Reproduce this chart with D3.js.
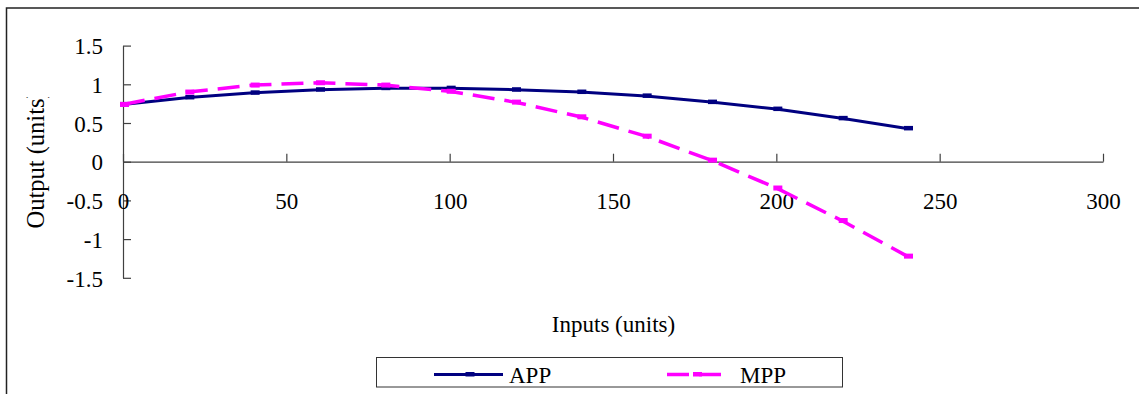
<!DOCTYPE html>
<html>
<head>
<meta charset="utf-8">
<script src="https://cdn.jsdelivr.net/npm/d3@7"></script>
<style>
  html, body { margin: 0; padding: 0; background: #fff; }
  svg { display: block; }
  text { font-family: "Liberation Serif", "Times New Roman", serif; fill: #000; }
</style>
</head>
<body>
<svg id="chart" width="1139" height="394"></svg>
<script>
// Inputs (units) and the two product curves measured at each input level
const inputs = [0, 20, 40, 60, 80, 100, 120, 140, 160, 180, 200, 220, 240];
const appValues = [0.74, 0.83, 0.89, 0.93, 0.95, 0.95, 0.93, 0.90, 0.85, 0.77, 0.68, 0.56, 0.43];
const mppValues = [0.74, 0.90, 0.99, 1.02, 0.99, 0.91, 0.77, 0.58, 0.33, 0.02, -0.34, -0.76, -1.22];

const xTickValues = [0, 50, 100, 150, 200, 250, 300];
const xTickLabels = ["0", "50", "100", "150", "200", "250", "300"];
const yTickValues = [-1.5, -1, -0.5, 0, 0.5, 1, 1.5];
const yTickLabels = ["-1.5", "-1", "-0.5", "0", "0.5", "1", "1.5"];

const seriesNames = ["APP", "MPP"];
const seriesColors = ["#000080", "#FF00FF"];

const svg = d3.select("#chart");
const FONT = 23;

// outer chart frame (extends past the right and bottom edges)
svg.append("rect")
  .attr("x", 6.5).attr("y", 8)
  .attr("width", 1300).attr("height", 500)
  .attr("fill", "none").attr("stroke", "#222").attr("stroke-width", 1.5);

const x = d3.scaleLinear().domain([0, 300]).range([123, 1103]);
const y = d3.scaleLinear().domain([-1.5, 1.5]).range([277.8, 45.6]);

// y axis with inward ticks
const yAxis = d3.axisLeft(y)
  .tickValues(yTickValues)
  .tickFormat((d, i) => yTickLabels[i])
  .tickSizeInner(-8).tickSizeOuter(0).tickPadding(20);
const gy = svg.append("g").attr("transform", `translate(${x(0)},0)`).call(yAxis);
gy.selectAll("text").style("font-size", FONT + "px").attr("dy", "0.36em");

// x axis through zero, ticks pointing up
const xAxis = d3.axisBottom(x)
  .tickValues(xTickValues)
  .tickFormat((d, i) => xTickLabels[i])
  .tickSizeInner(-8).tickSizeOuter(0).tickPadding(39);
const gx = svg.append("g").attr("transform", `translate(0,${y(0)})`).call(xAxis);
gx.selectAll("text").style("font-size", FONT + "px").attr("dy", "0.36em");

[gx, gy].forEach(g => {
  g.select(".domain").attr("stroke", "#404040").attr("stroke-width", 1.2);
  g.selectAll(".tick line").attr("stroke", "#404040").attr("stroke-width", 1.2);
  g.selectAll("text").attr("font-family", "Liberation Serif");
});

// series lines
const rows = inputs.map((v, i) => ({ x: v, app: appValues[i], mpp: mppValues[i] }));
const lineApp = d3.line().x(d => x(d.x)).y(d => y(d.app));
const lineMpp = d3.line().x(d => x(d.x)).y(d => y(d.mpp));

svg.append("path").datum(rows)
  .attr("d", lineApp)
  .attr("fill", "none").attr("stroke", seriesColors[0])
  .attr("stroke-width", 3).attr("stroke-linejoin", "round");

svg.append("g").selectAll("rect").data(rows).join("rect")
  .attr("x", d => x(d.x) - 3).attr("y", d => y(d.app) - 2.5)
  .attr("width", 9).attr("height", 4.5)
  .attr("fill", seriesColors[0]);

svg.append("path").datum(rows)
  .attr("d", lineMpp)
  .attr("fill", "none").attr("stroke", seriesColors[1])
  .attr("stroke-width", 3.5).attr("stroke-dasharray", "22,10");

svg.append("g").selectAll("rect").data(rows).join("rect")
  .attr("x", d => x(d.x) - 3).attr("y", d => y(d.mpp) - 2.5)
  .attr("width", 9).attr("height", 5)
  .attr("fill", seriesColors[1]);

// axis titles
svg.append("text")
  .attr("x", 613.5).attr("y", 324).attr("dy", "0.36em")
  .attr("text-anchor", "middle").style("font-size", FONT + "px")
  .text("Inputs (units)");

// the vertical title is cut off at the top of its box
svg.append("clipPath").attr("id", "ytitle-clip")
  .append("rect").attr("x", 0).attr("y", 97).attr("width", 80).attr("height", 200);
svg.append("g").attr("clip-path", "url(#ytitle-clip)")
  .append("text")
  .attr("transform", "translate(43.5,228.5) rotate(-90)")
  .attr("text-anchor", "start").style("font-size", "24.5px")
  .text("Output (units)");

// legend
const legend = svg.append("g");
legend.append("rect")
  .attr("x", 376.5).attr("y", 357.5).attr("width", 466).attr("height", 29.5)
  .attr("fill", "#fff").attr("stroke", "#333").attr("stroke-width", 1);

const legendItems = [
  { x0: 434, x1: 503, tx: 509, dash: null, w: 3 },
  { x0: 667, x1: 725, tx: 740, dash: "22,10", w: 3.5 }
];
legendItems.forEach((it, i) => {
  legend.append("line")
    .attr("x1", it.x0).attr("x2", it.x1).attr("y1", 374.5).attr("y2", 374.5)
    .attr("stroke", seriesColors[i]).attr("stroke-width", it.w)
    .attr("stroke-dasharray", it.dash);
  legend.append("rect")
    .attr("x", (it.x0 + it.x1) / 2 - 3).attr("y", 372).attr("width", 9).attr("height", 4.5)
    .attr("fill", seriesColors[i]);
  legend.append("text")
    .attr("x", it.tx).attr("y", 382.5)
    .style("font-size", FONT + "px")
    .text(seriesNames[i]);
});
</script>
</body>
</html>
